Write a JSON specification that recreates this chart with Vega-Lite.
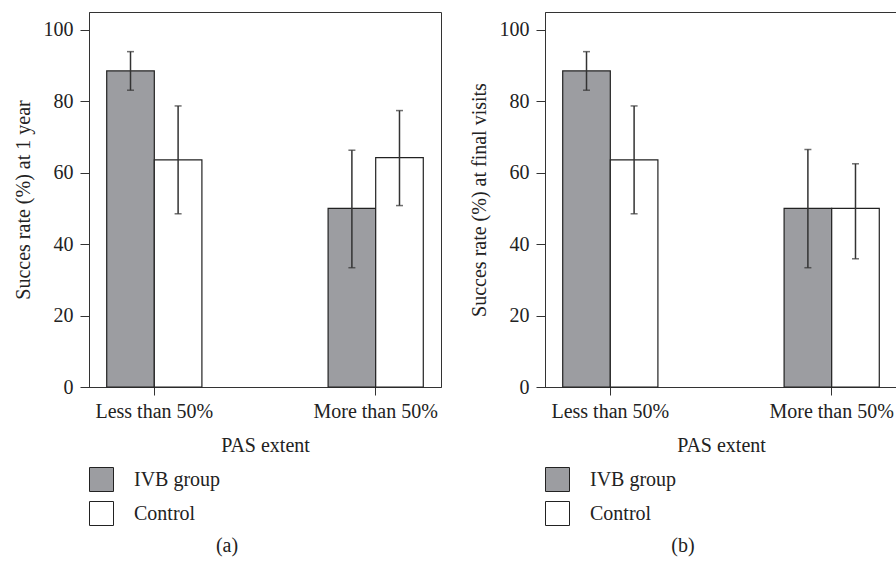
{
  "$schema": "https://vega.github.io/schema/vega-lite/v6.json",
  "background": "white",
  "padding": {"left": 12, "top": 11, "right": 0, "bottom": 0},
  "config": {
    "font": "Liberation Serif",
    "view": {"stroke": "#333", "strokeWidth": 1},
    "axis": {
      "labelFont": "Liberation Serif", "titleFont": "Liberation Serif",
      "labelFontSize": 20, "titleFontSize": 20, "titleFontWeight": "normal",
      "labelColor": "#222", "titleColor": "#222",
      "domainColor": "#333", "tickColor": "#333", "grid": false
    },
    "legend": {
      "labelFont": "Liberation Serif", "labelFontSize": 20, "labelColor": "#222"
    },
    "title": {"font": "Liberation Serif", "fontSize": 20, "fontWeight": "normal", "color": "#222"},
    "concat": {"spacing": 26}
  },
  "datasets": {
    "a": [
      {"extent": "Less than 50%", "group": "IVB group", "rate": 88.5, "lo": 83.1, "hi": 93.9},
      {"extent": "Less than 50%", "group": "Control", "rate": 63.6, "lo": 48.5, "hi": 78.7},
      {"extent": "More than 50%", "group": "IVB group", "rate": 50, "lo": 33.4, "hi": 66.3},
      {"extent": "More than 50%", "group": "Control", "rate": 64.2, "lo": 50.8, "hi": 77.4}
    ],
    "b": [
      {"extent": "Less than 50%", "group": "IVB group", "rate": 88.5, "lo": 83.1, "hi": 93.9},
      {"extent": "Less than 50%", "group": "Control", "rate": 63.6, "lo": 48.5, "hi": 78.7},
      {"extent": "More than 50%", "group": "IVB group", "rate": 50, "lo": 33.4, "hi": 66.5},
      {"extent": "More than 50%", "group": "Control", "rate": 50, "lo": 35.9, "hi": 62.5}
    ]
  },
  "resolve": {"legend": {"fill": "independent"}},
  "hconcat": [
    {
      "width": 352, "height": 375,
      "data": {"name": "a"},
      "title": {"text": "(a)", "orient": "bottom", "anchor": "middle", "frame": "bounds", "offset": 8},
      "encoding": {
        "x": {"field": "extent", "type": "nominal", "sort": ["Less than 50%", "More than 50%"],
          "scale": {"paddingInner": 0.57, "paddingOuter": 0.08},
          "axis": {"title": "PAS extent", "labelAngle": 0, "tickSize": 8, "labelPadding": 6, "titlePadding": 14}},
        "xOffset": {"field": "group", "type": "nominal", "sort": ["IVB group", "Control"],
          "scale": {"paddingInner": 0, "paddingOuter": 0}}
      },
      "layer": [
        {
          "mark": {"type": "bar", "stroke": "#222", "strokeWidth": 1.2},
          "encoding": {
            "y": {"field": "rate", "type": "quantitative", "title": "Succes rate (%) at 1 year",
              "scale": {"domain": [0, 105], "nice": false},
              "axis": {"values": [0, 20, 40, 60, 80, 100], "tickSize": 9, "labelPadding": 7, "titlePadding": 10}},
            "fill": {"field": "group", "type": "nominal", "sort": ["IVB group", "Control"],
              "scale": {"domain": ["IVB group", "Control"], "range": ["#9c9da1", "#ffffff"]},
              "legend": {"orient": "bottom", "direction": "vertical", "title": null, "symbolType": "square",
                "symbolSize": 576, "symbolStrokeColor": "#222", "symbolStrokeWidth": 1,
                "rowPadding": 5, "labelOffset": 20, "offset": 12}}
          }
        },
        {
          "mark": {"type": "rule", "color": "#333", "strokeWidth": 1.5},
          "encoding": {
            "y": {"field": "lo", "type": "quantitative", "title": "Succes rate (%) at 1 year"},
            "y2": {"field": "hi"}
          }
        },
        {
          "mark": {"type": "tick", "color": "#333", "thickness": 1.5, "size": 7},
          "encoding": {"y": {"field": "lo", "type": "quantitative", "title": "Succes rate (%) at 1 year"}}
        },
        {
          "mark": {"type": "tick", "color": "#333", "thickness": 1.5, "size": 7},
          "encoding": {"y": {"field": "hi", "type": "quantitative", "title": "Succes rate (%) at 1 year"}}
        }
      ]
    },
    {
      "width": 352, "height": 375,
      "data": {"name": "b"},
      "title": {"text": "(b)", "orient": "bottom", "anchor": "middle", "frame": "bounds", "offset": 8},
      "encoding": {
        "x": {"field": "extent", "type": "nominal", "sort": ["Less than 50%", "More than 50%"],
          "scale": {"paddingInner": 0.57, "paddingOuter": 0.08},
          "axis": {"title": "PAS extent", "labelAngle": 0, "tickSize": 8, "labelPadding": 6, "titlePadding": 14}},
        "xOffset": {"field": "group", "type": "nominal", "sort": ["IVB group", "Control"],
          "scale": {"paddingInner": 0, "paddingOuter": 0}}
      },
      "layer": [
        {
          "mark": {"type": "bar", "stroke": "#222", "strokeWidth": 1.2},
          "encoding": {
            "y": {"field": "rate", "type": "quantitative", "title": "Succes rate (%) at final visits",
              "scale": {"domain": [0, 105], "nice": false},
              "axis": {"values": [0, 20, 40, 60, 80, 100], "tickSize": 9, "labelPadding": 7, "titlePadding": 10}},
            "fill": {"field": "group", "type": "nominal", "sort": ["IVB group", "Control"],
              "scale": {"domain": ["IVB group", "Control"], "range": ["#9c9da1", "#ffffff"]},
              "legend": {"orient": "bottom", "direction": "vertical", "title": null, "symbolType": "square",
                "symbolSize": 576, "symbolStrokeColor": "#222", "symbolStrokeWidth": 1,
                "rowPadding": 5, "labelOffset": 20, "offset": 12}}
          }
        },
        {
          "mark": {"type": "rule", "color": "#333", "strokeWidth": 1.5},
          "encoding": {
            "y": {"field": "lo", "type": "quantitative", "title": "Succes rate (%) at final visits"},
            "y2": {"field": "hi"}
          }
        },
        {
          "mark": {"type": "tick", "color": "#333", "thickness": 1.5, "size": 7},
          "encoding": {"y": {"field": "lo", "type": "quantitative", "title": "Succes rate (%) at final visits"}}
        },
        {
          "mark": {"type": "tick", "color": "#333", "thickness": 1.5, "size": 7},
          "encoding": {"y": {"field": "hi", "type": "quantitative", "title": "Succes rate (%) at final visits"}}
        }
      ]
    }
  ]
}
